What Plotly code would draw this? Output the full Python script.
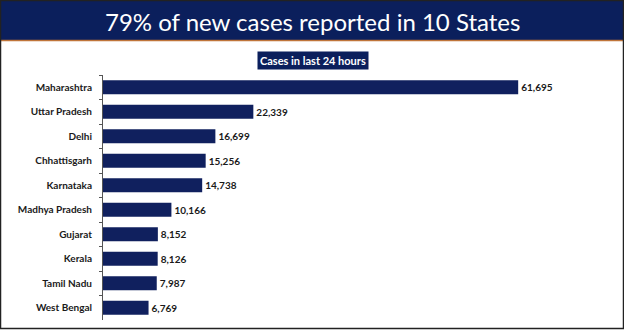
import plotly.graph_objects as go

states = ["Maharashtra", "Uttar Pradesh", "Delhi", "Chhattisgarh", "Karnataka",
          "Madhya Pradesh", "Gujarat", "Kerala", "Tamil Nadu", "West Bengal"]
cases = [61695, 22339, 16699, 15256, 14738, 10166, 8152, 8126, 7987, 6769]
title_text = "79% of new cases reported in 10 States"
subtitle_text = "Cases in last 24 hours"

W, H = 624, 330
L, R, T, B = 103, 23, 75, 10
PW, PH = W - L - R, H - T - B

def px(x):
    return (x - L) / PW

def py(y):
    return (H - B - y) / PH

NAVY = "#0b1f5c"
BAR = "#10205e"
FONT = "Lato, 'Open Sans', sans-serif"

fig = go.Figure(go.Bar(
    y=states, x=cases, orientation="h",
    marker=dict(color=BAR, line=dict(width=0)),
    width=0.58,
    text=cases, texttemplate="%{x:,}", textposition="outside",
    textfont=dict(family=FONT, size=10, color="#1a1a1a", weight="bold"),
    cliponaxis=False,
))

fig.update_layout(
    width=W, height=H,
    margin=dict(l=L, r=R, t=T, b=B),
    paper_bgcolor="white", plot_bgcolor="white",
    showlegend=False,
    xaxis=dict(range=[0, 74000], visible=False, showgrid=False, zeroline=False),
    yaxis=dict(autorange="reversed", showgrid=False, zeroline=False,
               showline=True, linecolor="#555555", linewidth=1,
               ticks="outside", ticklen=3, tickcolor="#555555", tickson="boundaries",
               ticklabelstandoff=8,
               tickfont=dict(family=FONT, size=10, color="#1a1a1a", weight="bold")),
    shapes=[
        dict(type="rect", xref="paper", yref="paper", x0=px(0), x1=px(W), y0=py(40), y1=py(0),
             fillcolor=NAVY, line=dict(width=0), layer="above"),
        dict(type="line", xref="paper", yref="paper", x0=px(0), x1=px(W), y0=py(40.5), y1=py(40.5),
             line=dict(color="#c0753a", width=1.5)),
        dict(type="rect", xref="paper", yref="paper", x0=px(0.5), x1=px(W - 0.5), y0=py(H - 1.5), y1=py(0.5),
             fillcolor="rgba(0,0,0,0)", line=dict(color="#222222", width=1.5)),
    ],
    annotations=[
        dict(text=title_text, xref="paper", yref="paper", x=px(W / 2), y=py(21),
             showarrow=False, xanchor="center", yanchor="middle",
             font=dict(family=FONT, size=24, color="white")),
        dict(text="<b>" + subtitle_text + "</b>", xref="paper", yref="paper", x=px(313), y=py(61),
             showarrow=False, xanchor="center", yanchor="middle",
             bgcolor=NAVY, borderpad=2,
             font=dict(family=FONT, size=11, color="white")),
    ],
)

fig.write_html("out.html")
